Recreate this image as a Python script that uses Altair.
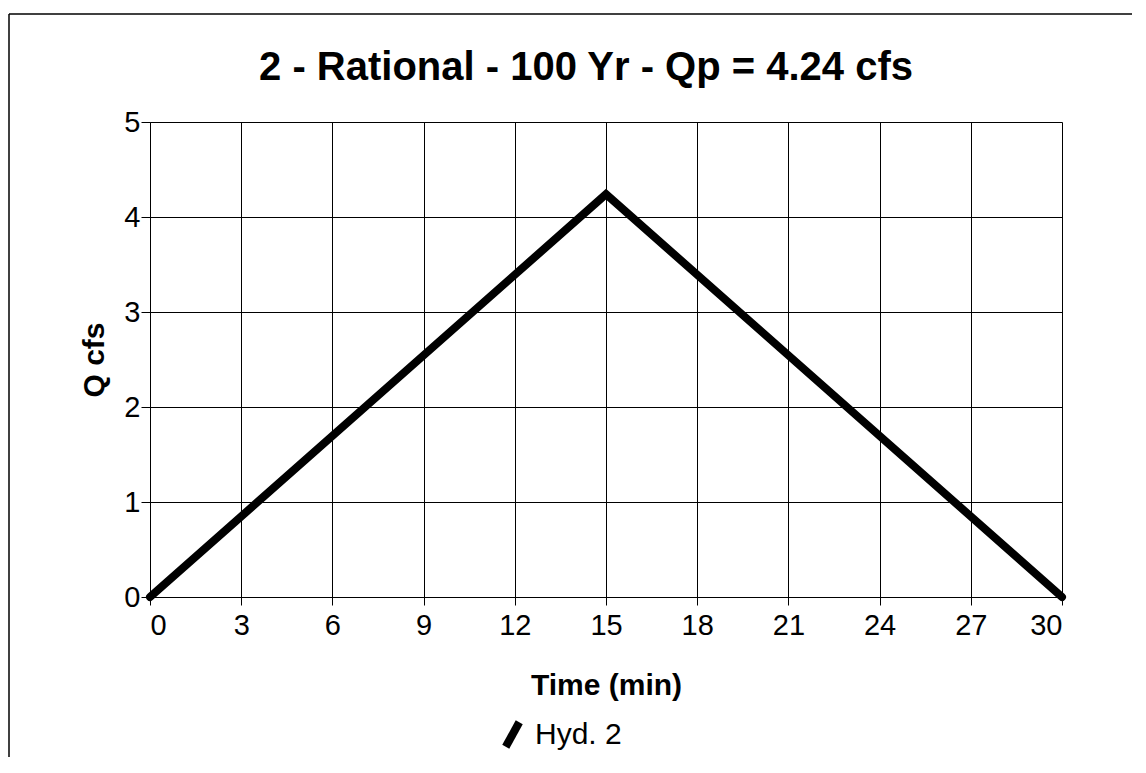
import altair as alt
import pandas as pd

time_min = [0, 15, 30]
flow_cfs = [0.0, 4.24, 0.0]
series = ["Hyd. 2", "Hyd. 2", "Hyd. 2"]
x_ticks = [0, 3, 6, 9, 12, 15, 18, 21, 24, 27, 30]
y_ticks = [0, 1, 2, 3, 4, 5]
title_text = "2 - Rational - 100 Yr - Qp = 4.24 cfs"

df = pd.DataFrame({"t": time_min, "q": flow_cfs, "s": series})
FONT = "Liberation Sans"

line = alt.Chart(df).mark_line(strokeWidth=8, strokeCap="round", strokeJoin="miter").encode(
    x=alt.X("t:Q", scale=alt.Scale(domain=[0, 30], nice=False),
            axis=alt.Axis(values=x_ticks, title="Time (min)", grid=True, gridColor="black",
                          gridOpacity=1, gridWidth=1, domainColor="black", tickColor="black",
                          tickSize=8, labelFontSize=29, labelFont=FONT, labelColor="black",
                          labelPadding=6, titleFont=FONT, titleFontSize=30, titleFontWeight="bold",
                          titleColor="black", titlePadding=30)),
    y=alt.Y("q:Q", scale=alt.Scale(domain=[0, 5], nice=False),
            axis=alt.Axis(values=y_ticks, title="Q cfs", grid=True, gridColor="black",
                          gridOpacity=1, gridWidth=1, domainColor="black", tickColor="black",
                          tickSize=9, labelFontSize=29, labelFont=FONT, labelColor="black",
                          labelPadding=1, titleFont=FONT, titleFontSize=30, titleFontWeight="bold",
                          titleColor="black", titlePadding=14)),
    color=alt.Color("s:N", scale=alt.Scale(domain=["Hyd. 2"], range=["black"]),
                    legend=alt.Legend(title=None, orient="none", legendX=346, legendY=596,
                                      symbolType="M-0.55,1L0.55,-1", symbolSize=600,
                                      symbolStrokeWidth=8, labelFontSize=30, labelFont=FONT,
                                      labelColor="black", labelOffset=6)),
)

title = alt.Chart(pd.DataFrame({"label": [title_text]})).mark_text(
    font=FONT, fontSize=40, fontWeight="bold", color="black", align="center", baseline="middle"
).encode(text="label:N", x=alt.value(436), y=alt.value(-54))

frame_top = alt.Chart(pd.DataFrame({"a": [0]})).mark_rule(color="black", strokeWidth=1.5, clip=False).encode(
    x=alt.value(-141), x2=alt.value(990), y=alt.value(-108))
frame_left = alt.Chart(pd.DataFrame({"a": [0]})).mark_rule(color="black", strokeWidth=1.5, clip=False).encode(
    x=alt.value(-141), y=alt.value(-108), y2=alt.value(660))

chart = alt.layer(frame_top, frame_left, line, title).properties(
    width=912, height=475,
    autosize=alt.AutoSizeParams(type="none"),
    padding={"left": 142, "top": 114, "right": 70, "bottom": 160},
).configure_view(stroke="black", strokeWidth=1.5).configure(background="white")

chart.save("out.html", embed_options={"renderer": "svg", "actions": False})
